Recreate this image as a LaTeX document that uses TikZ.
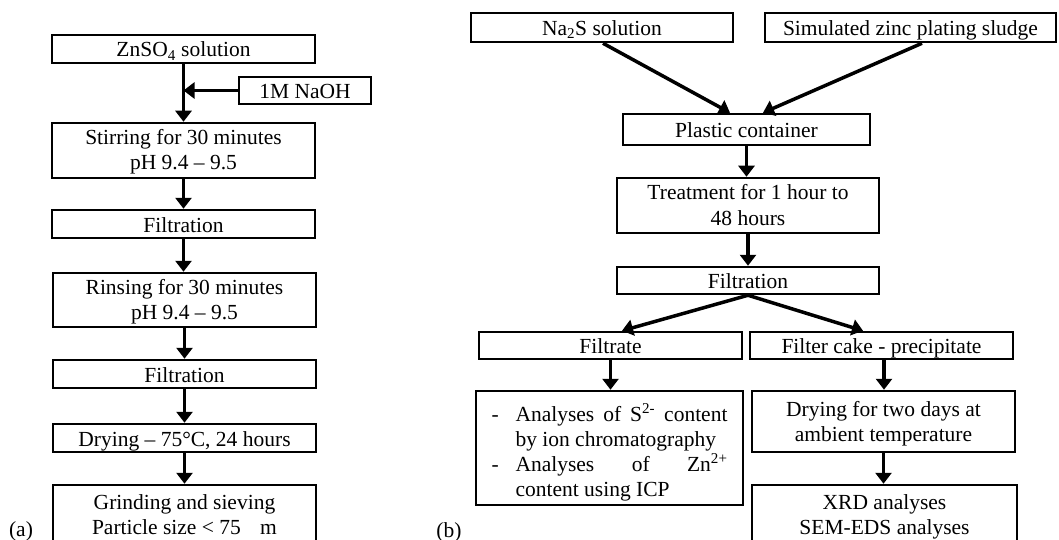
\documentclass[tikz,border=0pt]{standalone}
\usepackage{fontspec}
\setmainfont{Liberation Serif}
\usetikzlibrary{arrows.meta}
\begin{document}
\begin{tikzpicture}[x=1pt,y=-1pt,
  box/.style={draw, line width=2.5pt, inner sep=0pt, align=center, font=\fontsize{21.5pt}{25pt}\selectfont},
  one/.style={text height=18pt, text depth=2pt},
  two/.style={text height=43pt, text depth=4pt},
  flow/.style={line width=3.5pt, -{Triangle[width=16pt,length=11pt]}},
  lbl/.style={font=\fontsize{21.5pt}{25pt}\selectfont, inner sep=0pt}]
\clip (0,0) rectangle (1059,540);
\fill[white] (0,0) rectangle (1059,540);

% ---------- (a) ----------
\node[box, one, minimum width=263pt, minimum height=28pt] (zn) at (183.5,49) {ZnSO\textsubscript{4} solution};
\node[box, one, minimum width=132pt, minimum height=27pt] (naoh) at (305,90.5) {1M NaOH};
\node[box, two, minimum width=263pt, minimum height=55pt] (stir) at (183.5,150.5) {Stirring for 30 minutes\\pH 9.4 -- 9.5};
\node[box, one, minimum width=263pt, minimum height=28pt] (f1) at (183.5,224) {Filtration};
\node[box, two, minimum width=263pt, minimum height=54pt] (rin) at (184.5,300) {Rinsing for 30 minutes\\pH 9.4 -- 9.5};
\node[box, one, minimum width=263pt, minimum height=28pt] (f2) at (184.5,374) {Filtration};
\node[box, one, minimum width=263pt, minimum height=28pt] (dry) at (184.5,438) {Drying -- 75°C, 24 hours};
\node[box, two, minimum width=263pt, minimum height=60pt] (grind) at (184.5,515) {Grinding and sieving\\Particle size < 75\hspace{0.9em}m};

\draw[flow] (zn.south) -- (zn.south |- stir.north);
\draw[flow] (naoh.west) -- (naoh.west -| zn.south);
\draw[flow] (stir.south) -- (stir.south |- f1.north);
\draw[flow] (f1.south) -- (f1.south |- rin.north);
\draw[flow] (rin.south) -- (rin.south |- f2.north);
\draw[flow] (f2.south) -- (f2.south |- dry.north);
\draw[flow] (dry.south) -- (dry.south |- grind.north);

\node[lbl] (la) at (21,531) {(a)};

% ---------- (b) ----------
\node[box, one, minimum width=262pt, minimum height=29pt] (na2s) at (602,27.5) {Na\textsubscript{2}S solution};
\node[box, one, minimum width=291pt, minimum height=29pt] (sim) at (910.5,27.5) {Simulated zinc plating sludge};
\node[box, one, minimum width=247pt, minimum height=31pt] (pc) at (746.5,129.5) {Plastic container};
\node[box, two, minimum width=262pt, minimum height=55pt] (treat) at (748,205.5) {Treatment for 1 hour to\\48 hours};
\node[box, one, minimum width=262pt, minimum height=27pt] (f3) at (748,280.5) {Filtration};
\node[box, one, minimum width=263pt, minimum height=27pt] (filtrate) at (610.5,345.5) {Filtrate};
\node[box, one, minimum width=263pt, minimum height=27pt] (cake) at (881.5,345.5) {Filter cake - precipitate};
\node[box, text height=61pt, text depth=39pt, minimum width=267pt, minimum height=114pt] (anal) at (609.5,448) {%
  \begin{tabular}{@{}p{24pt}@{}l@{}}
  - & \makebox[212pt][s]{Analyses of S\textsuperscript{2-} content}\\
    & by ion chromatography\\
  - & \makebox[212pt][s]{Analyses of Zn\textsuperscript{2+}}\\
    & content using ICP
  \end{tabular}};
\node[box, two, minimum width=263pt, minimum height=61pt] (dry2) at (883.5,421.5) {Drying for two days at\\ambient temperature};
\node[box, two, minimum width=265pt, minimum height=60pt] (xrd) at (884.5,515) {XRD analyses\\SEM-EDS analyses};

\draw[flow] ([xshift=1pt]na2s.south) -- ([xshift=-16.5pt]pc.north);
\draw[flow] ([xshift=11.5pt]sim.south) -- ([xshift=16.5pt]pc.north);
\draw[flow] (pc.south) -- (pc.south |- treat.north);
\draw[flow] (treat.south) -- (treat.south |- f3.north);
\draw[flow] (f3.south) -- ([xshift=11.5pt]filtrate.north);
\draw[flow] (f3.south) -- ([xshift=-18.5pt]cake.north);
\draw[flow] (filtrate.south) -- (filtrate.south |- anal.north);
\draw[flow] ([xshift=2.5pt]cake.south) -- ([xshift=2.5pt]cake.south |- dry2.north);
\draw[flow] (dry2.south) -- (dry2.south |- xrd.north);

\node[lbl] (lb) at (449,532) {(b)};
\end{tikzpicture}
\end{document}
